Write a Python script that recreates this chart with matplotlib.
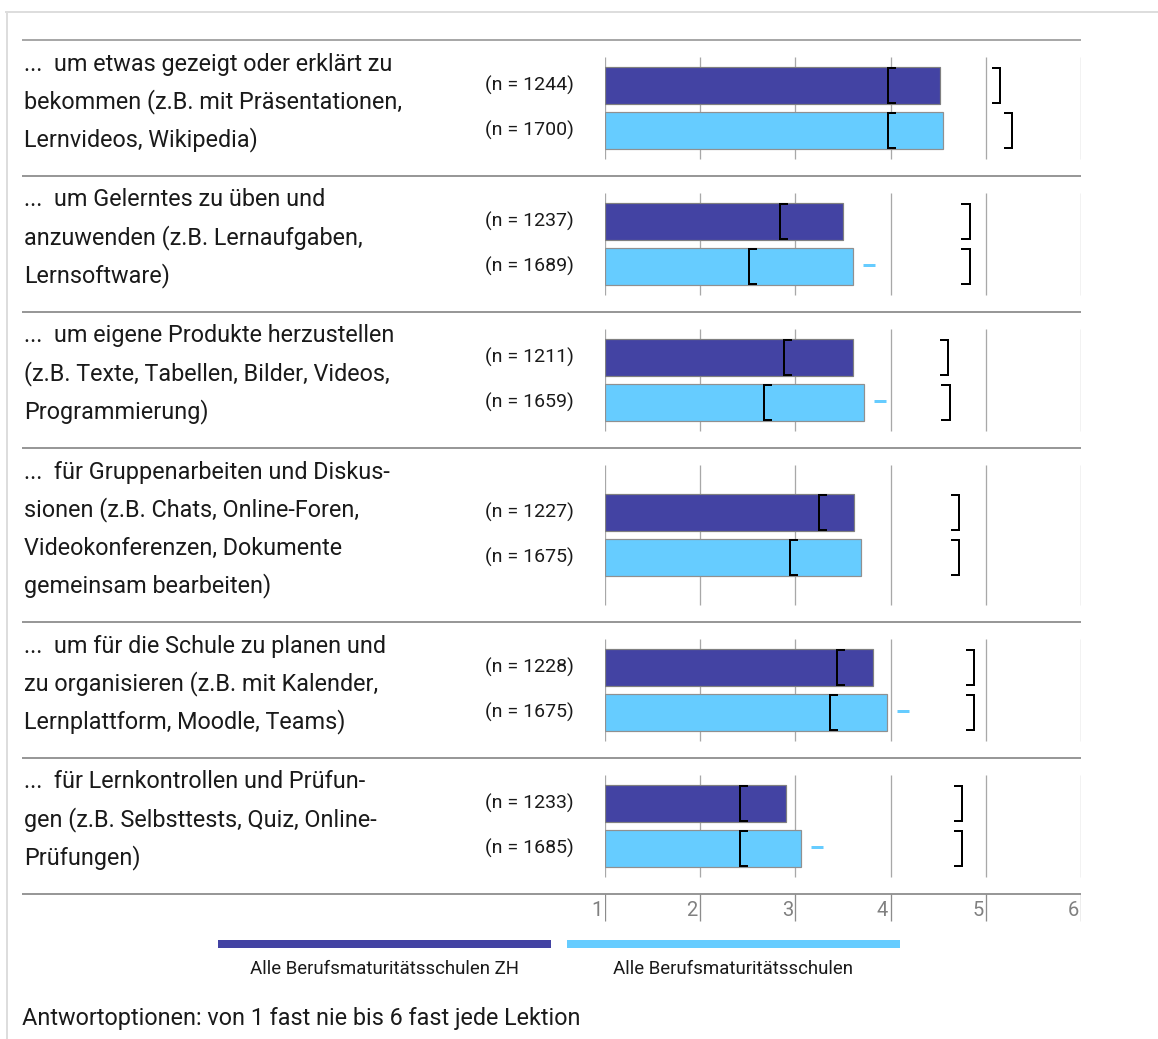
import matplotlib
matplotlib.use('Agg')
import matplotlib.pyplot as plt
import matplotlib.transforms as mtransforms

plt.rcParams['font.family'] = ['Roboto', 'DejaVu Sans']

# Daten
labels = [
    ['...  um etwas gezeigt oder erklärt zu', 'bekommen (z.B. mit Präsentationen,', 'Lernvideos, Wikipedia)'],
    ['...  um Gelerntes zu üben und', 'anzuwenden (z.B. Lernaufgaben,', 'Lernsoftware)'],
    ['...  um eigene Produkte herzustellen', '(z.B. Texte, Tabellen, Bilder, Videos,', 'Programmierung)'],
    ['...  für Gruppenarbeiten und Diskus-', 'sionen (z.B. Chats, Online-Foren,', 'Videokonferenzen, Dokumente',
     'gemeinsam bearbeiten)'],
    ['...  um für die Schule zu planen und', 'zu organisieren (z.B. mit Kalender,', 'Lernplattform, Moodle, Teams)'],
    ['...  für Lernkontrollen und Prüfun-', 'gen (z.B. Selbsttests, Quiz, Online-', 'Prüfungen)'],
]
n_zh = [1244, 1237, 1211, 1227, 1228, 1233]
n_all = [1700, 1689, 1659, 1675, 1675, 1685]
mean_zh = [4.52, 3.50, 3.61, 3.62, 3.82, 2.90]
mean_all = [4.55, 3.61, 3.72, 3.69, 3.96, 3.06]
lo_zh = [3.97, 2.84, 2.88, 3.25, 3.44, 2.42]
lo_all = [3.97, 2.51, 2.67, 2.94, 3.36, 2.42]
hi_zh = [5.15, 4.83, 4.60, 4.72, 4.88, 4.75]
hi_all = [5.28, 4.83, 4.62, 4.72, 4.88, 4.75]
sig_all = [False, True, True, False, True, True]
scale_ticks = [1, 2, 3, 4, 5, 6]
series_names = ['Alle Berufsmaturitätsschulen ZH', 'Alle Berufsmaturitätsschulen']
footer = 'Antwortoptionen: von 1 fast nie bis 6 fast jede Lektion'

col_zh = '#4343a3'
col_all = '#66ccff'

W, H = 1158, 1039
fig = plt.figure(figsize=(W / 100, H / 100), dpi=100)
ax = fig.add_axes([605 / W, 0, 476 / W, 1])
ax.set_xlim(1, 6)
ax.set_ylim(H, 0)
ax.axis('off')
# x in Figurenbruchteil, y in Pixel
tf = mtransforms.blended_transform_factory(fig.transFigure, ax.transData)

px = 0.72  # 1 Pixel in Punkt
bar_h = 37
tick_len = 0.075


def hline(y, x0, x1, color, lw):
    ax.plot([x0 / W, x1 / W], [y, y], transform=tf, color=color, lw=lw, clip_on=False,
            solid_capstyle='butt')


def bracket(x, yc, side):
    t = tick_len if side == '[' else -tick_len
    y0, y1 = yc - bar_h / 2 + 1, yc + bar_h / 2 - 1
    ax.plot([x + t, x, x, x + t], [y0, y0, y1, y1], color='black', lw=2 * px,
            solid_joinstyle='miter', clip_on=False, zorder=5)


# Rahmen
hline(12, 5, W, '#dddddd', 2 * px)
ax.plot([7 / W, 7 / W], [12, H], transform=tf, color='#dddddd', lw=2 * px, clip_on=False)

top = 40
hline(top, 22, 1081, '#8c8c8c', 1.5 * px)
for i, lines in enumerate(labels):
    bottom = top + 38 * len(lines) + 22
    center = (top + bottom) / 2
    for k, line in enumerate(lines):
        fig.text(24 / W, 1 - (top + 24 + 38 * k) / H, line, ha='left', va='center',
                 fontsize=16.8, color='#1a1a1a')
    ax.vlines(scale_ticks, top + 17, bottom - 17, color='#a8a8a8', lw=1.3 * px, zorder=0)

    y_zh = center - 22.5
    y_all = center + 22.5
    ax.barh(y_zh, mean_zh[i] - 1, left=1, height=bar_h, color=col_zh, edgecolor='#808080',
            lw=1.2 * px, zorder=2)
    ax.barh(y_all, mean_all[i] - 1, left=1, height=bar_h, color=col_all, edgecolor='#909090',
            lw=1.2 * px, zorder=2)
    bracket(lo_zh[i], y_zh, '[')
    bracket(hi_zh[i], y_zh, ']')
    bracket(lo_all[i], y_all, '[')
    bracket(hi_all[i], y_all, ']')
    if sig_all[i]:
        ax.plot([mean_all[i] + 0.105, mean_all[i] + 0.23], [y_all - 2, y_all - 2], color=col_all,
                lw=3 * px, solid_capstyle='butt')

    fig.text(574 / W, 1 - y_zh / H, f'(n = {n_zh[i]})', ha='right', va='center', fontsize=14,
             color='#1a1a1a')
    fig.text(574 / W, 1 - y_all / H, f'(n = {n_all[i]})', ha='right', va='center', fontsize=14,
             color='#1a1a1a')

    hline(bottom, 22, 1081, '#777777', 1.5 * px)
    top = bottom

# Skala unten
ax.vlines(scale_ticks, top, top + 27, color='#8c8c8c', lw=1.3 * px)
for v in scale_ticks:
    ax.text(v - 0.025, top + 17, str(v), ha='right', va='center', fontsize=14.5, color='#808080')

# Legende
hline(944, 218, 551, col_zh, 8 * px)
hline(944, 567, 900, col_all, 8 * px)
fig.text(385 / W, 1 - 969 / H, series_names[0], ha='center', va='center', fontsize=13.4,
         color='#1a1a1a')
fig.text(733 / W, 1 - 969 / H, series_names[1], ha='center', va='center', fontsize=13.4,
         color='#1a1a1a')

fig.text(22 / W, 1 - 1019 / H, footer, ha='left', va='center', fontsize=16.8, color='#1a1a1a')

fig.savefig('out.png', dpi=100)
